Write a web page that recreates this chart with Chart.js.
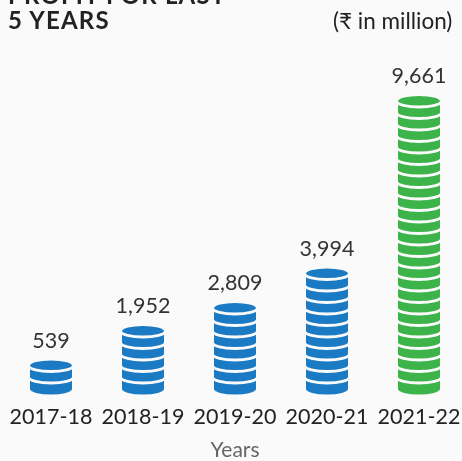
<!DOCTYPE html>
<html>
<head>
<meta charset="utf-8">
<script src="https://cdn.jsdelivr.net/npm/chart.js@4.4.1/dist/chart.umd.min.js"></script>
<style>
    html, body { margin: 0; padding: 0; background: #fafafa; overflow: hidden; }
    #wrap { position: relative; width: 470px; height: 461px; }
    .title {
        position: absolute; left: 8px; top: -18px;
        font: bold 24px Lato, sans-serif; line-height: 25px; letter-spacing: 1.2px; color: #222;
    }
    .unit {
        position: absolute; left: 333px; top: 7px; white-space: nowrap;
        font: 22.5px Lato, sans-serif; color: #222;
    }
</style>
</head>
<body>
<div id="wrap">
    <canvas id="patChart"></canvas>
    <div class="title">PROFIT FOR LAST<br>5 YEARS</div>
    <div class="unit">(₹ in million)</div>
</div>
<script>
// Data
const years = ['2017-18', '2018-19', '2019-20', '2020-21', '2021-22'];
const profit = [539, 1952, 2809, 3994, 9661];
const coinColors = ['#1a7bc4', '#1a7bc4', '#1a7bc4', '#1a7bc4', '#3cb44a'];

// axis range (baseline sits below zero so small stacks still show coins)
const Y_MIN = -478;
const Y_MAX = 11020;

// coin geometry
const COIN_STEP = 11.5;
const COIN_RY = 5.5;

Chart.defaults.font.family = "Lato, sans-serif";

// Draws each bar as a stack of coins plus the value label above it
const coinPlugin = {
    id: 'coins',
    afterDatasetsDraw(chart) {
        const ctx = chart.ctx;
        const bottom = chart.chartArea.bottom;
        const meta = chart.getDatasetMeta(0);
        meta.data.forEach((bar, i) => {
            const rx = bar.width / 2;
            const h = bottom - bar.y;
            const n = Math.max(1, Math.round((h - 2 * COIN_RY) / COIN_STEP));
            const cy0 = bottom - COIN_STEP - COIN_RY;
            ctx.save();
            ctx.fillStyle = coinColors[i];
            for (let k = 0; k < n; k++) {
                const cy = cy0 - k * COIN_STEP;
                ctx.beginPath();
                ctx.ellipse(bar.x, cy + COIN_STEP, rx, COIN_RY, 0, 0, Math.PI * 2);
                ctx.fill();
                ctx.fillRect(bar.x - rx, cy, rx * 2, COIN_STEP);
                ctx.beginPath();
                ctx.ellipse(bar.x, cy, rx, COIN_RY, 0, 0, Math.PI * 2);
                ctx.fill();
            }
            ctx.strokeStyle = '#fafafa';
            ctx.lineWidth = 2.8;
            for (let k = 0; k < n; k++) {
                const cy = cy0 - k * COIN_STEP;
                ctx.beginPath();
                ctx.ellipse(bar.x, cy, rx + 1, COIN_RY, 0, 0, Math.PI);
                ctx.stroke();
            }
            const top = bottom - n * COIN_STEP - 2 * COIN_RY;
            ctx.fillStyle = '#333';
            ctx.font = '21.5px Lato, sans-serif';
            ctx.textAlign = 'center';
            ctx.textBaseline = 'alphabetic';
            ctx.fillText(profit[i].toLocaleString('en-US'), bar.x, top - 13);
            ctx.restore();
        });
    }
};

new Chart(document.getElementById('patChart').getContext('2d'), {
    type: 'bar',
    data: {
        labels: years,
        datasets: [{
            data: profit,
            base: Y_MIN,
            backgroundColor: 'rgba(0,0,0,0)',
            barThickness: 42
        }]
    },
    options: {
        responsive: true,
        maintainAspectRatio: false,
        animation: false,
        layout: { padding: { top: 60, left: 1, right: 0, bottom: -1.5 } },
        plugins: {
            legend: { display: false },
            tooltip: { enabled: false }
        },
        scales: {
            x: {
                grid: { display: false, drawTicks: false },
                border: { display: false },
                ticks: {
                    color: '#222',
                    font: { size: 21.5 },
                    padding: 10,
                    maxRotation: 0,
                    autoSkip: false
                },
                title: {
                    display: true,
                    text: 'Years',
                    color: '#666',
                    font: { size: 21 },
                    padding: { top: -3, bottom: 0 }
                }
            },
            y: {
                display: false,
                min: Y_MIN,
                max: Y_MAX
            }
        }
    },
    plugins: [coinPlugin]
});
</script>
</body>
</html>
